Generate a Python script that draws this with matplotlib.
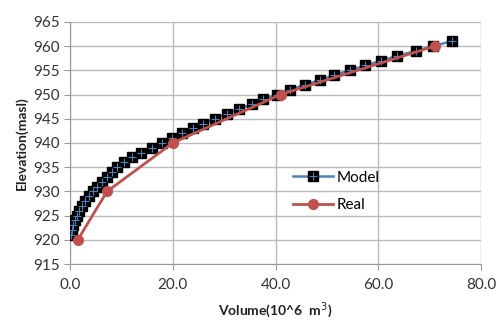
import matplotlib.pyplot as plt
from matplotlib.legend_handler import HandlerTuple

plt.rcParams["font.family"] = ["Lato", "DejaVu Sans"]

# Model elevation-volume curve
model_elev = list(range(921, 962))
model_vol = [0.1, 0.3, 0.6, 0.9, 1.3, 1.8, 2.3, 2.9, 3.6, 4.4,
             5.3, 6.2, 7.1, 8.1, 9.1, 10.5, 12.0, 13.9, 15.9, 17.8,
             19.8, 21.7, 24.0, 25.9, 28.2, 30.5, 32.8, 35.4, 37.6, 40.2,
             42.8, 45.7, 48.6, 51.4, 54.5, 57.5, 60.6, 63.7, 67.4, 70.6,
             74.3]

# Surveyed elevation-volume points
real_elev = [920, 930, 940, 950, 960]
real_vol = [1.5, 7.2, 20.0, 41.0, 71.0]

x_ticks = [0, 20, 40, 60, 80]
y_ticks = list(range(915, 966, 5))

fig = plt.figure(figsize=(4.97, 3.26), dpi=100)
ax = fig.add_axes([0.141, 0.19, 0.827, 0.743])

line_model, = ax.plot(model_vol, model_elev, color="#4F81BD", lw=1.8,
                      marker="s", ms=7, mfc="black", mec="black", zorder=3)
cross_model, = ax.plot(model_vol, model_elev, ls="none", marker="+", ms=5.5,
                       mew=0.8, color="#4F81BD", zorder=4)
line_real, = ax.plot(real_vol, real_elev, color="#C0504D", lw=2,
                     marker="o", ms=7, mfc="#C0504D", mec="#C0504D", zorder=5)

ax.set_xlim(0, 80)
ax.set_ylim(915, 965)
ax.set_xticks(x_ticks)
ax.set_xticklabels([f"{v:.1f}" for v in x_ticks])
ax.set_yticks(y_ticks)
ax.grid(True, color="#BBBBBB", lw=1)
ax.set_axisbelow(True)
for side in ["top", "right"]:
    ax.spines[side].set_visible(False)
for side in ["left", "bottom"]:
    ax.spines[side].set_color("#999999")
ax.tick_params(axis="both", labelsize=11, color="#999999", length=4,
               labelcolor="#333333")
ax.tick_params(axis="x", pad=6)

ax.set_xlabel("Volume(10^6  m$^3$)", fontsize=10, fontweight="bold",
              color="#222222", labelpad=6)
ax.set_ylabel("Elevation(masl)", fontsize=10, fontweight="bold",
              color="#222222", labelpad=4)

ax.legend([(line_model, cross_model), line_real], ["Model", "Real"],
          handler_map={tuple: HandlerTuple(ndivide=1, pad=0)},
          loc="center left", bbox_to_anchor=(0.51, 0.30), frameon=False,
          fontsize=11, handlelength=2.6, labelspacing=0.9, handletextpad=0.2)

fig.savefig("out.png", dpi=100)
plt.close()
